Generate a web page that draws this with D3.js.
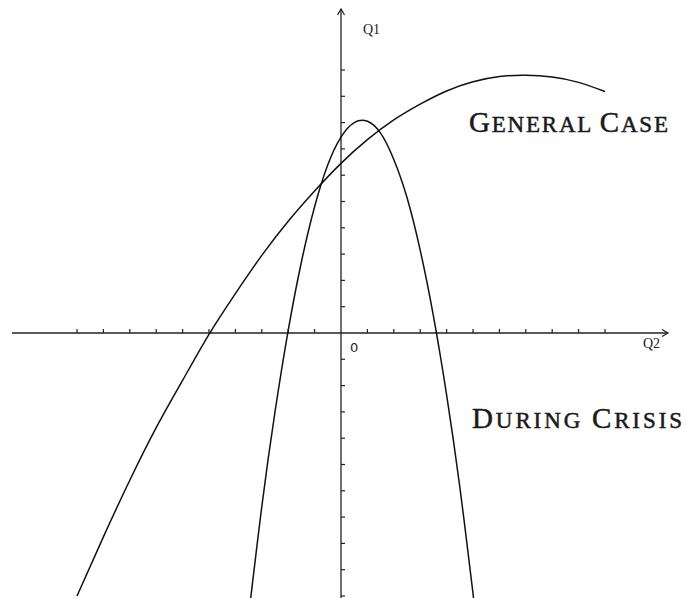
<!DOCTYPE html>
<html>
<head>
<meta charset="utf-8">
<script src="https://cdn.jsdelivr.net/npm/d3@7"></script>
<style>
  html, body { margin: 0; padding: 0; background: #fff; }
  svg { display: block; }
</style>
</head>
<body>
<svg id="chart" width="687" height="598"></svg>
<script>
// ---- data ----
const generalX = [-10, -9, -8, -7, -6, -5, -4, -3, -2, -1, 0, 1, 2, 3, 4, 5, 6, 7, 8, 9, 10];
const generalY = [-10.0, -7.75, -5.6, -3.6, -1.8, -0.05, 1.5, 2.95, 4.25, 5.4, 6.45, 7.35, 8.1, 8.7, 9.2, 9.55, 9.75, 9.8, 9.73, 9.53, 9.18];

const crisisX = [-3.6, -3.5, -3, -2.5, -2, -1.5, -1, -0.5, 0, 0.5, 1, 1.5, 2, 2.5, 3, 3.5, 4, 4.5, 5, 5.2];
const crisisY = [-11.65, -10.75, -6.6, -3.0, 0.1, 2.7, 4.8, 6.4, 7.45, 8.0, 8.05, 7.6, 6.6, 5.15, 3.15, 0.65, -2.35, -5.85, -9.9, -11.65];

const xTicks = [-10, -9, -8, -7, -6, -5, -4, -3, -2, -1, 1, 2, 3, 4, 5, 6, 7, 8, 9, 10];
const yTicks = [-10, -9, -8, -7, -6, -5, -4, -3, -2, -1, 1, 2, 3, 4, 5, 6, 7, 8, 9, 10];
const axisLabels = { x: "Q2", y: "Q1", origin: "0" };
const seriesLabels = [
  { name: "General Case", x: 469, y: 132, w: 199 },
  { name: "During Crisis", x: 472, y: 428, w: 210 }
];

// ---- scales ----
const svg = d3.select("#chart");
const x = d3.scaleLinear().domain([-10, 10]).range([77, 605]);
const y = d3.scaleLinear().domain([-10, 10]).range([596, 70]);
const X0 = x(0), Y0 = y(0);

svg.append("defs").append("clipPath").attr("id", "clip")
  .append("rect").attr("x", 0).attr("y", 0).attr("width", 687).attr("height", 598);

const axisColor = "#222";
// horizontal axis
svg.append("line").attr("x1", 12).attr("x2", 668).attr("y1", Y0).attr("y2", Y0)
  .attr("stroke", axisColor).attr("stroke-width", 1.3);
svg.append("path")
  .attr("d", `M${662},${Y0 - 3.5} L${668},${Y0} L${662},${Y0 + 3.5}`)
  .attr("fill", "none").attr("stroke", axisColor).attr("stroke-width", 1.2);
// vertical axis
svg.append("line").attr("x1", X0).attr("x2", X0).attr("y1", 598).attr("y2", 9)
  .attr("stroke", axisColor).attr("stroke-width", 1.3);
svg.append("path")
  .attr("d", `M${X0 - 3.5},${15} L${X0},${9} L${X0 + 3.5},${15}`)
  .attr("fill", "none").attr("stroke", axisColor).attr("stroke-width", 1.2);

// ticks
svg.append("g").selectAll("line").data(xTicks).join("line")
  .attr("x1", d => x(d)).attr("x2", d => x(d))
  .attr("y1", Y0).attr("y2", Y0 - 4)
  .attr("stroke", axisColor).attr("stroke-width", 1.2);
svg.append("g").selectAll("line").data(yTicks).join("line")
  .attr("x1", X0).attr("x2", X0 + 4)
  .attr("y1", d => y(d)).attr("y2", d => y(d))
  .attr("stroke", axisColor).attr("stroke-width", 1.2);

// axis labels
svg.append("text").attr("x", 363).attr("y", 34).text(axisLabels.y)
  .attr("font-family", "Liberation Serif, serif").attr("font-size", 14).attr("fill", "#222");
svg.append("text").attr("x", 643).attr("y", 348).text(axisLabels.x)
  .attr("font-family", "Liberation Serif, serif").attr("font-size", 14).attr("fill", "#222");
svg.append("text").attr("x", 350).attr("y", 352).text(axisLabels.origin)
  .attr("font-family", "DejaVu Sans, sans-serif").attr("font-size", 13).attr("fill", "#222");

// curves
const line = d3.line().x(d => x(d[0])).y(d => y(d[1])).curve(d3.curveNatural);
const g = svg.append("g").attr("clip-path", "url(#clip)");
g.append("path").datum(generalX.map((v, i) => [v, generalY[i]]))
  .attr("d", line).attr("fill", "none").attr("stroke", "#111").attr("stroke-width", 1.5);
g.append("path").datum(crisisX.map((v, i) => [v, crisisY[i]]))
  .attr("d", line).attr("fill", "none").attr("stroke", "#111").attr("stroke-width", 1.5);

// small-caps series labels
seriesLabels.forEach(lab => {
  const t = svg.append("text").attr("x", lab.x).attr("y", lab.y)
    .attr("font-family", "Liberation Serif, serif").attr("fill", "#1a1a1a")
    .attr("stroke", "#1a1a1a").attr("stroke-width", 0.5)
    .attr("textLength", lab.w).attr("lengthAdjust", "spacing");
  const words = lab.name.split(" ");
  words.forEach((w, wi) => {
    t.append("tspan").attr("font-size", 29).text(w[0].toUpperCase());
    t.append("tspan").attr("font-size", 23).text(w.slice(1).toUpperCase() + (wi < words.length - 1 ? " " : ""));
  });
});
</script>
</body>
</html>
